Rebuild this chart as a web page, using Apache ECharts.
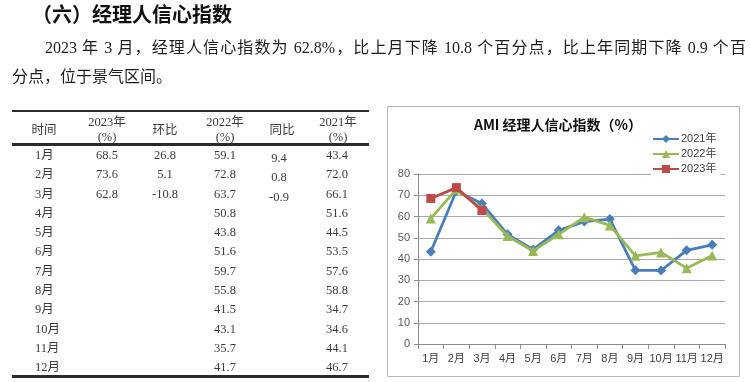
<!DOCTYPE html>
<html>
<head>
<meta charset="utf-8">
<script src="https://cdn.jsdelivr.net/npm/echarts@6/dist/echarts.min.js"></script>
<style>
  html, body { margin: 0; padding: 0; background: #fff; }
  #wrap { position: relative; width: 750px; height: 382px; overflow: hidden; }
  #chart { position: absolute; left: 0; top: 0; width: 750px; height: 382px; }
  .t { position: absolute; white-space: nowrap; pointer-events: none; }
  .line { position: absolute; background: #2b2b2b; }
</style>
</head>
<body>
<div id="wrap">
  <div id="chart"></div>
</div>
<script>
// ---------- data ----------
const months = ['1月','2月','3月','4月','5月','6月','7月','8月','9月','10月','11月','12月'];
const v2021 = [43.4, 72.0, 66.1, 51.6, 44.5, 53.5, 57.6, 58.8, 34.7, 34.6, 44.1, 46.7];
const v2022 = [59.1, 72.8, 63.7, 50.8, 43.8, 51.6, 59.7, 55.8, 41.5, 43.1, 35.7, 41.7];
const v2023 = [68.5, 73.6, 62.8];
const mom2023 = [26.8, 5.1, -10.8];   // 环比
const yoy2023 = [9.4, 0.8, -0.9];     // 同比
const seriesNames = ['2021年', '2022年', '2023年'];
const yTicks = [0, 10, 20, 30, 40, 50, 60, 70, 80];
const tableHeader = ['时间', '2023年', '环比', '2022年', '同比', '2021年'];
const headingText = '（六）经理人信心指数';
const paraLine1 = '2023 年 3 月，经理人信心指数为 62.8%，比上月下降 10.8 个百分点，比上年同期下降 0.9 个百';
const paraLine2 = '分点，位于景气区间。';
const chartTitle = 'AMI 经理人信心指数（%）';

// ---------- html text ----------
const wrap = document.getElementById('wrap');
function addText(str, x, cy, o) {
  o = o || {};
  const d = document.createElement('div');
  d.className = 't';
  const h = o.h || 20;
  d.textContent = str;
  d.style.top = (cy - h / 2) + 'px';
  d.style.height = h + 'px';
  d.style.lineHeight = h + 'px';
  d.style.fontSize = (o.size || 12.5) + 'px';
  d.style.fontFamily = o.font || '"Liberation Serif", "Noto Sans CJK SC", serif';
  d.style.color = o.color || '#3c3c3c';
  if (o.bold) d.style.fontWeight = 'bold';
  if (o.align === 'center') {
    d.style.left = (x - 60) + 'px';
    d.style.width = '120px';
    d.style.textAlign = 'center';
  } else if (o.width) {
    d.style.left = x + 'px';
    d.style.width = o.width + 'px';
    d.style.whiteSpace = 'normal';
    d.style.textAlign = 'justify';
    d.style.textAlignLast = 'justify';
  } else {
    d.style.left = x + 'px';
  }
  wrap.appendChild(d);
  return d;
}
function addLine(x, y, w, h) {
  const d = document.createElement('div');
  d.className = 'line';
  d.style.left = x + 'px'; d.style.top = y + 'px';
  d.style.width = w + 'px'; d.style.height = h + 'px';
  wrap.appendChild(d);
}

// heading & paragraph
addText(headingText, 32, 14, { size: 20, bold: true, color: '#111', font: '"Noto Sans CJK SC", sans-serif', h: 26 });
addText(paraLine1, 45, 48, { size: 16, color: '#1e1e1e', width: 701, h: 22 });
addText(paraLine2, 12, 77, { size: 16, color: '#1e1e1e', h: 22 });

// table
addLine(12, 110, 357, 1.5);
addLine(12, 143, 357, 2.5);
addLine(12, 375, 357, 3);
const colX = [44, 107, 165, 225, 282, 338];
addText(tableHeader[0], colX[0], 130, { align: 'center' });
addText(tableHeader[2], colX[2], 130, { align: 'center' });
addText(tableHeader[4], colX[4], 130, { align: 'center' });
[1, 3, 5].forEach(i => {
  addText(tableHeader[i], colX[i], 122, { align: 'center' });
  addText('(%)', colX[i], 137, { align: 'center' });
});
const rowY0 = 155, rowStep = 19.28;
const fmt = v => v.toFixed(1);
months.forEach((m, i) => {
  const cy = rowY0 + i * rowStep;
  addText(m, 35, cy);
  if (i < v2023.length) {
    addText(fmt(v2023[i]), 107, cy, { align: 'center' });
    addText(fmt(mom2023[i]), 165, cy, { align: 'center' });
    addText(fmt(yoy2023[i]), 279, cy + 3, { align: 'center' });
  }
  addText(fmt(v2022[i]), 225, cy, { align: 'center' });
  addText(fmt(v2021[i]), 337, cy, { align: 'center' });
});

// ---------- chart ----------
const chart = echarts.init(document.getElementById('chart'), null, { renderer: 'canvas' });
const colors = ['#4A7EBB', '#98B954', '#BE4B48'];
const symbols = ['diamond', 'triangle', 'rect'];
const symSizes = [10, 10, 9];
const dataSets = [v2021, v2022, v2023];
const sansFont = '"Liberation Sans", "Noto Sans CJK SC", sans-serif';

chart.setOption({
  animation: false,
  title: {
    text: chartTitle,
    left: 558,
    top: 116,
    textAlign: 'center',
    padding: 0,
    textStyle: { fontSize: 14, fontWeight: 'bold', color: '#111', fontFamily: '"Noto Sans CJK SC", sans-serif', lineHeight: 18 }
  },
  legend: {
    orient: 'vertical',
    left: 651,
    top: 130,
    padding: [3, 4, 6, 1],
    backgroundColor: '#fff',
    itemWidth: 26,
    itemHeight: 10,
    itemGap: 3,
    data: seriesNames,
    textStyle: { fontSize: 11, color: '#404040', fontFamily: sansFont, lineHeight: 12, padding: [0, 0, 0, -3] }
  },
  graphic: [{
    type: 'rect',
    shape: { x: 387.5, y: 106.5, width: 352, height: 270 },
    style: { fill: 'none', stroke: '#b8b8b8', lineWidth: 1 },
    z: -1
  }],
  grid: { left: 418, right: 25, top: 174, bottom: 38, containLabel: false },
  xAxis: {
    type: 'category',
    data: months,
    boundaryGap: true,
    axisLine: { lineStyle: { color: '#8c8c8c', width: 1 } },
    axisTick: { show: true, alignWithLabel: false, length: 5, inside: false, lineStyle: { color: '#8c8c8c' } },
    axisLabel: { fontSize: 11, color: '#404040', margin: 9, fontFamily: sansFont, interval: 0 },
    splitLine: { show: false }
  },
  yAxis: {
    type: 'value',
    min: yTicks[0],
    max: yTicks[yTicks.length - 1],
    interval: 10,
    axisLine: { show: true, lineStyle: { color: '#8c8c8c', width: 1 } },
    axisTick: { show: true, length: 4, lineStyle: { color: '#8c8c8c' } },
    axisLabel: { fontSize: 11, color: '#595959', margin: 8, fontFamily: sansFont },
    splitLine: { show: true, lineStyle: { color: '#adadad', width: 1 } }
  },
  series: seriesNames.map((name, i) => ({
    name: name,
    type: 'line',
    data: dataSets[i],
    symbol: symbols[i],
    symbolSize: symSizes[i],
    showAllSymbol: true,
    lineStyle: { color: colors[i], width: 2.8 },
    itemStyle: { color: colors[i] },
    emphasis: { disabled: true },
    z: 2 + i
  }))
});
</script>
</body>
</html>
